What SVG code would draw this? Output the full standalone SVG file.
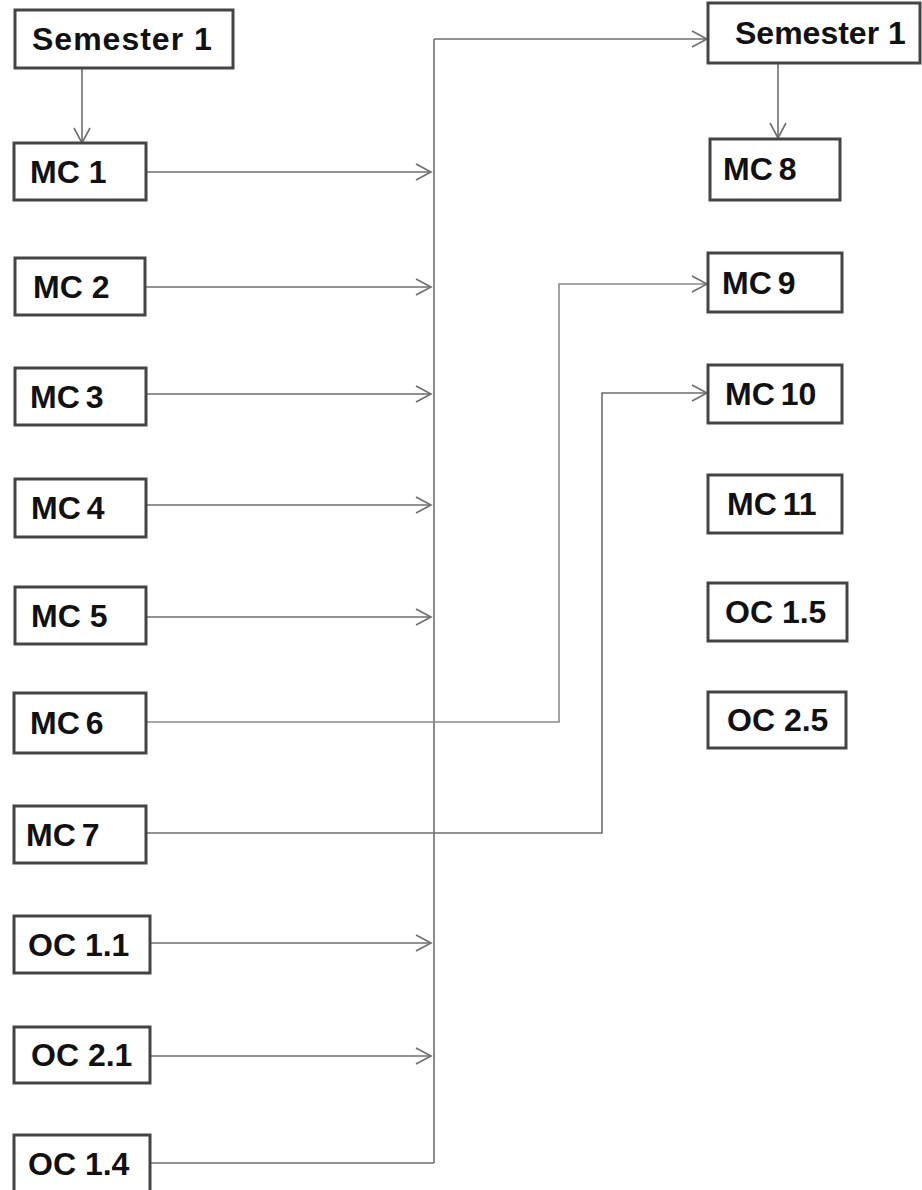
<svg xmlns="http://www.w3.org/2000/svg" width="922" height="1190" viewBox="0 0 922 1190">
<style>
.box{fill:#fff;stroke:#444;stroke-width:3}
.lbl{font-family:"Liberation Sans",Arial,sans-serif;font-weight:bold;font-size:32px;fill:#111}
.sem{letter-spacing:1px}
.tight{word-spacing:-3px}
.con{fill:none;stroke:#6e6e6e;stroke-width:1.6}
.arr{marker-end:url(#ah)}
</style>
<defs>
<marker id="ah" markerUnits="userSpaceOnUse" markerWidth="22" markerHeight="22" refX="17" refY="10" orient="auto">
<path d="M2,2 L17,10 L2,18" fill="none" stroke="#6e6e6e" stroke-width="1.6"/>
</marker>
</defs>
<rect width="922" height="1190" fill="#fff"/>
<g id="connectors">
<line class="con arr" x1="82" y1="68" x2="82" y2="143"/>
<line class="con arr" x1="778" y1="63" x2="778" y2="138"/>
<line class="con" x1="434" y1="39" x2="434" y2="1163"/>
<line class="con arr" x1="434" y1="39" x2="707" y2="39"/>
<line class="con arr" x1="146" y1="172" x2="431" y2="172"/>
<line class="con arr" x1="146" y1="287" x2="431" y2="287"/>
<line class="con arr" x1="146" y1="394" x2="431" y2="394"/>
<line class="con arr" x1="146" y1="505" x2="431" y2="505"/>
<line class="con arr" x1="146" y1="617" x2="431" y2="617"/>
<line class="con arr" x1="150" y1="943" x2="431" y2="943"/>
<line class="con arr" x1="150" y1="1056" x2="431" y2="1056"/>
<polyline class="con" points="150,1163 434,1163"/>
<polyline class="con arr" points="146,722 559,722 559,284 707,284" style="stroke:#8a8a8a"/>
<polyline class="con arr" points="146,833 602,833 602,393 707,393"/>
</g>
<g id="sem1_left"><rect class="box" x="15" y="10" width="218" height="58"/><text class="lbl sem" x="32" y="50">Semester 1</text></g>
<g id="mc1"><rect class="box" x="14" y="143" width="132" height="57"/><text class="lbl" x="30" y="183">MC 1</text></g>
<g id="mc2"><rect class="box" x="15" y="258" width="130" height="57"/><text class="lbl" x="33" y="298">MC 2</text></g>
<g id="mc3"><rect class="box" x="15" y="368" width="131" height="57"/><text class="lbl tight" x="30" y="408">MC 3</text></g>
<g id="mc4"><rect class="box" x="15" y="479" width="131" height="58"/><text class="lbl tight" x="31" y="519">MC 4</text></g>
<g id="mc5"><rect class="box" x="15" y="587" width="131" height="57"/><text class="lbl" x="31" y="627">MC 5</text></g>
<g id="mc6"><rect class="box" x="14" y="693" width="132" height="60"/><text class="lbl tight" x="30" y="734">MC 6</text></g>
<g id="mc7"><rect class="box" x="14" y="806" width="132" height="57"/><text class="lbl tight" x="26" y="846">MC 7</text></g>
<g id="oc11"><rect class="box" x="14" y="916" width="136" height="57"/><text class="lbl" x="28" y="956">OC 1.1</text></g>
<g id="oc21"><rect class="box" x="14" y="1027" width="136" height="56"/><text class="lbl" x="31" y="1066">OC 2.1</text></g>
<g id="oc14"><rect class="box" x="14" y="1135" width="136" height="58"/><text class="lbl" x="28" y="1175">OC 1.4</text></g>
<g id="sem1_right"><rect class="box" x="708" y="3" width="212" height="60"/><text class="lbl" x="735" y="44">Semester 1</text></g>
<g id="mc8"><rect class="box" x="710" y="139" width="130" height="61"/><text class="lbl tight" x="723" y="180">MC 8</text></g>
<g id="mc9"><rect class="box" x="708" y="253" width="134" height="59"/><text class="lbl tight" x="722" y="294">MC 9</text></g>
<g id="mc10"><rect class="box" x="708" y="365" width="134" height="58"/><text class="lbl tight" x="725" y="405">MC 10</text></g>
<g id="mc11"><rect class="box" x="708" y="475" width="134" height="58"/><text class="lbl tight" x="727" y="515">MC 11</text></g>
<g id="oc15"><rect class="box" x="708" y="583" width="139" height="58"/><text class="lbl" x="725" y="623">OC 1.5</text></g>
<g id="oc25"><rect class="box" x="708" y="692" width="138" height="56"/><text class="lbl" x="727" y="731">OC 2.5</text></g>
</svg>
